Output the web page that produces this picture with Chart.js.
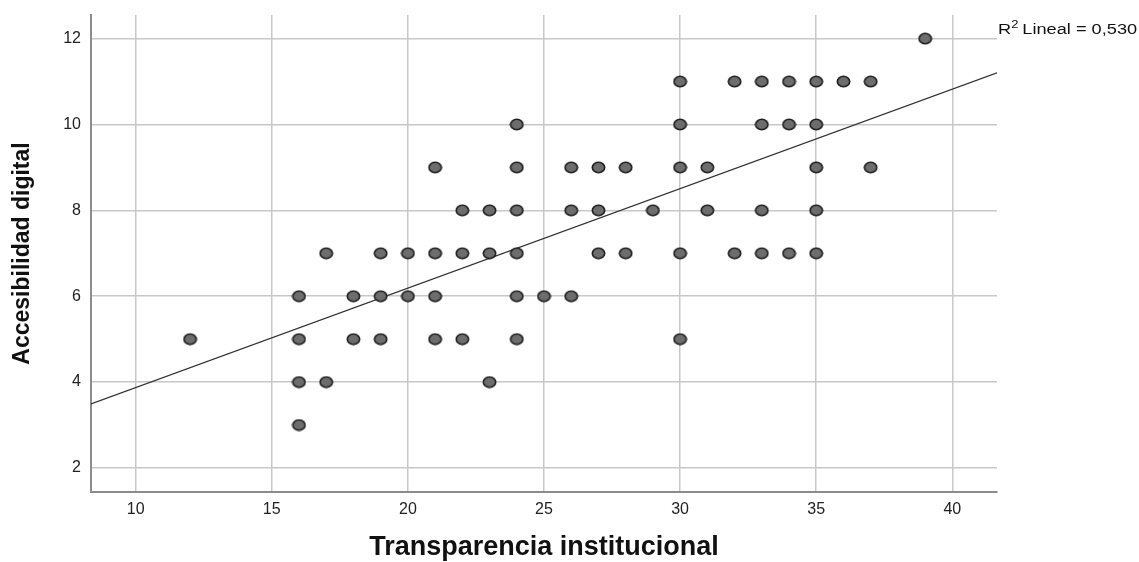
<!DOCTYPE html>
<html>
<head>
<meta charset="utf-8">
<script src="https://cdn.jsdelivr.net/npm/chart.js@4.4.1/dist/chart.umd.min.js"></script>
<style>
  html, body { margin: 0; padding: 0; background: #fff; }
  #wrap { width: 1139px; height: 562px; }
</style>
</head>
<body>
<div id="wrap"><canvas id="scatter"></canvas></div>
<script>
// Transparencia institucional (x) vs Accesibilidad digital (y)
const transparencia = [
  39,
  30, 32, 33, 34, 35, 36, 37,
  24, 30, 33, 34, 35,
  21, 24, 26, 27, 28, 30, 31, 35, 37,
  22, 23, 24, 26, 27, 29, 31, 33, 35,
  17, 19, 20, 21, 22, 23, 24, 27, 28, 30, 32, 33, 34, 35,
  16, 18, 19, 20, 21, 24, 25, 26,
  12, 16, 18, 19, 21, 22, 24, 30,
  16, 17, 23,
  16
];
const accesibilidad = [
  12,
  11, 11, 11, 11, 11, 11, 11,
  10, 10, 10, 10, 10,
  9, 9, 9, 9, 9, 9, 9, 9, 9,
  8, 8, 8, 8, 8, 8, 8, 8, 8,
  7, 7, 7, 7, 7, 7, 7, 7, 7, 7, 7, 7, 7, 7,
  6, 6, 6, 6, 6, 6, 6, 6,
  5, 5, 5, 5, 5, 5, 5, 5,
  4, 4, 4,
  3
];
const xTicks = [10, 15, 20, 25, 30, 35, 40];
const yTicks = [2, 4, 6, 8, 10, 12];

// linear fit
const fitIntercept = 1.553;
const fitSlope = 0.2317;
const r2Label = "0,530";

const xMin = 8.36, xMax = 41.64;
const yMin = 1.44, yMax = 12.55;

const font = "'Liberation Sans', Arial, sans-serif";

// slightly wide oval marker like the SPSS output
const makeMarker = () => {
  const c = document.createElement("canvas");
  c.width = 15;
  c.height = 13;
  const ctx = c.getContext("2d");
  ctx.beginPath();
  ctx.ellipse(7.5, 6.5, 6.2, 5.2, 0, 0, Math.PI * 2);
  ctx.fillStyle = "#6d6d6d";
  ctx.fill();
  ctx.lineWidth = 1.6;
  ctx.strokeStyle = "#1e1e1e";
  ctx.stroke();
  return c;
};

const points = transparencia.map((x, i) => ({ x, y: accesibilidad[i] }));
const fitLine = [xMin, xMax].map((x) => ({ x, y: fitIntercept + fitSlope * x }));

// "R² Lineal = 0,530" next to the plot, a bit stretched like the source image
const r2Plugin = {
  id: "r2Label",
  afterDraw(chart) {
    const ctx = chart.ctx;
    const area = chart.chartArea;
    ctx.save();
    ctx.translate(area.right + 1, 33.5);
    ctx.scale(1.3, 1);
    ctx.fillStyle = "#111";
    ctx.textBaseline = "alphabetic";
    ctx.textAlign = "left";
    let x = 0;
    ctx.font = "14px " + font;
    ctx.fillText("R", x, 0);
    x += ctx.measureText("R").width;
    ctx.font = "10px " + font;
    ctx.fillText("2", x, -6);
    x += ctx.measureText("2").width + 3;
    ctx.font = "14px " + font;
    ctx.fillText("Lineal = " + r2Label, x, 0);
    ctx.restore();
  }
};

new Chart(document.getElementById("scatter").getContext("2d"), {
  type: "scatter",
  data: {
    datasets: [
      {
        label: "fit",
        type: "line",
        data: fitLine,
        borderColor: "#333",
        borderWidth: 1.3,
        pointRadius: 0,
        fill: false,
        order: 1
      },
      {
        label: "Accesibilidad digital",
        data: points,
        pointStyle: makeMarker(),
        order: 0
      }
    ]
  },
  plugins: [r2Plugin],
  options: {
    responsive: true,
    maintainAspectRatio: false,
    animation: false,
    events: [],
    layout: { padding: { left: 0, right: 142, top: 15, bottom: 0 } },
    plugins: {
      legend: { display: false },
      tooltip: { enabled: false }
    },
    scales: {
      x: {
        type: "linear",
        min: xMin,
        max: xMax,
        afterBuildTicks: (axis) => {
          axis.ticks = xTicks.map((v) => ({ value: v }));
        },
        afterFit: (axis) => {
          axis.height = 70;
        },
        grid: {
          color: "#c8c8c8",
          lineWidth: 1.5,
          drawTicks: false
        },
        border: { color: "#8c8c8c", width: 2 },
        ticks: {
          color: "#222",
          font: { family: font, size: 16 },
          padding: 8,
          maxRotation: 0
        },
        title: {
          display: true,
          text: "Transparencia institucional",
          color: "#111",
          font: { family: font, size: 27, weight: "bold", lineHeight: 1.1 },
          padding: { top: 0, bottom: 0 }
        }
      },
      y: {
        type: "linear",
        min: yMin,
        max: yMax,
        afterBuildTicks: (axis) => {
          axis.ticks = yTicks.map((v) => ({ value: v }));
        },
        afterFit: (axis) => {
          axis.width = 91;
          // labels never reach the ends, so no extra room above/below
          axis.paddingTop = 0;
          axis.paddingBottom = 0;
        },
        grid: {
          color: "#c8c8c8",
          lineWidth: 1.5,
          drawTicks: false
        },
        border: { color: "#8c8c8c", width: 2 },
        ticks: {
          color: "#222",
          font: { family: font, size: 16 },
          padding: 10
        },
        title: {
          display: true,
          text: "Accesibilidad digital",
          color: "#111",
          font: { family: font, size: 23, weight: "bold", lineHeight: 1.1 },
          padding: { top: 10, bottom: 0 }
        }
      }
    }
  }
});
</script>
</body>
</html>
